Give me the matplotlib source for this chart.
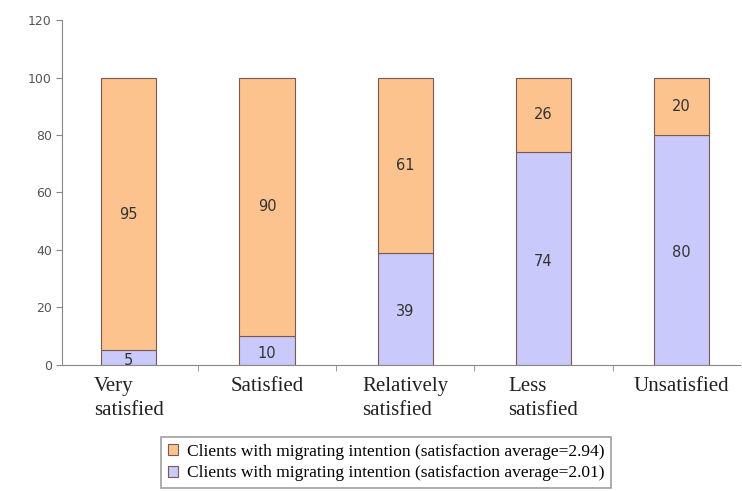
import matplotlib
matplotlib.use("Agg")
import matplotlib.pyplot as plt
import numpy as np

categories = ["Very\nsatisfied", "Satisfied", "Relatively\nsatisfied", "Less\nsatisfied", "Unsatisfied"]
without_migrating = [5, 10, 39, 74, 80]
with_migrating = [95, 90, 61, 26, 20]
legend_labels = [
    "Clients with migrating intention (satisfaction average=2.94)",
    "Clients with migrating intention (satisfaction average=2.01)",
]

orange = "#FCC38F"
blue = "#C9C9FB"
edge = "#7A5A50"

fig = plt.figure(figsize=(7.42, 4.91), dpi=100)
ax = fig.add_axes([0.084, 0.257, 0.913, 0.702])

x = np.arange(len(categories))
b1 = ax.bar(x, without_migrating, width=0.4, color=blue, edgecolor=edge, linewidth=0.8)
b2 = ax.bar(x, with_migrating, width=0.4, bottom=without_migrating, color=orange,
            edgecolor=edge, linewidth=0.8)

for i in range(len(x)):
    ax.text(x[i], without_migrating[i] / 2 - 1, str(without_migrating[i]), ha="center", va="center",
            fontsize=10.5, color="#333333", family="DejaVu Sans")
    ax.text(x[i], without_migrating[i] + with_migrating[i] / 2, str(with_migrating[i]), ha="center",
            va="center", fontsize=10.5, color="#333333", family="DejaVu Sans")

ax.set_xlim(-0.48, 4.42)
ax.set_ylim(0, 120)
ax.set_yticks(range(0, 121, 20))
ax.tick_params(axis="y", labelsize=9, labelcolor="#555555", color="#888888", length=4)
ax.set_xticks(x)
ax.set_xticklabels(categories, family="Liberation Serif", fontsize=15, color="#222222",
                   multialignment="left", va="top", linespacing=1.3)
ax.tick_params(axis="x", length=0, pad=9)
ax.set_xticks(x[:-1] + 0.5, minor=True)
ax.tick_params(axis="x", which="minor", length=4, color="#888888")

for s in ["top", "right"]:
    ax.spines[s].set_visible(False)
ax.spines["left"].set_color("#888888")
ax.spines["bottom"].set_color("#888888")

leg = fig.legend([b2, b1], legend_labels, loc="lower left", bbox_to_anchor=(0.205, -0.012),
                 prop={"family": "Liberation Serif", "size": 12.5}, frameon=True, fancybox=False,
                 handlelength=0.6, handleheight=0.6, handletextpad=0.5, borderpad=0.4,
                 labelspacing=0.3, edgecolor="#888888")
leg.get_frame().set_linewidth(1.2)

fig.savefig("out.png", dpi=100)
